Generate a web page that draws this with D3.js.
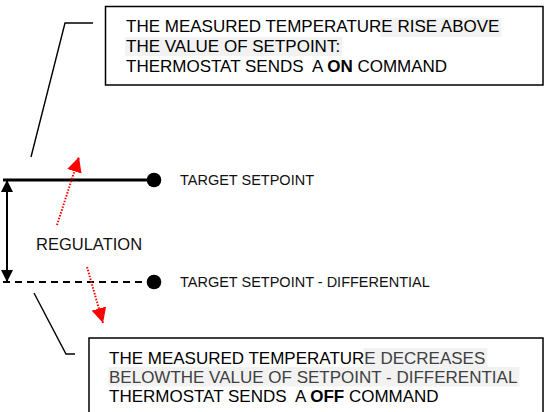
<!DOCTYPE html>
<html lang="en">
<head>
  <meta charset="utf-8">
  <title>Thermostat regulation</title>
  <script src="https://d3js.org/d3.v7.min.js"></script>
  <style>
    html, body { margin:0; padding:0; background:#fff; }
    svg { display:block; font-family:"Liberation Sans", Arial, sans-serif; }
  </style>
</head>
<body>
  <svg id="chart" width="546" height="412"></svg>
  <script>
    // ─── Data ────────────────────────────────────────────────────────────────
    const levelNames  = ["TARGET SETPOINT", "TARGET SETPOINT - DIFFERENTIAL"];
    const levelValues = [1, 0];            // setpoint above, setpoint - differential below
    const levelDashed = [false, true];
    const regulationLabel = "REGULATION";

    // each line: [plain part, highlighted part] ; bold word is marked with *…*
    const onLines  = [["THE MEASURED TEMPERATUR", "E RISE ABOVE"],
                      ["", "THE VALUE OF SETPOINT:"],
                      ["THERMOSTAT SENDS  A *ON* COMMAND", ""]];
    const offLines = [["THE MEASURED TEMPERATUR", "E DECREASES"],
                      ["", "BELOWTHE VALUE OF SETPOINT - DIFFERENTIAL"],
                      ["THERMOSTAT SENDS  A *OFF* COMMAND", ""]];
    // ─────────────────────────────────────────────────────────────────────────

    const svg = d3.select("#chart");
    const y = d3.scaleLinear().domain([0, 1]).range([282, 180]);
    const x = d3.scaleLinear().domain([0, 1]).range([3, 154]);

    // arrowheads
    const defs = svg.append("defs");
    defs.append("marker")
      .attr("id", "redHead").attr("viewBox", "0 0 10 10")
      .attr("refX", 10).attr("refY", 5)
      .attr("markerWidth", 15).attr("markerHeight", 15)
      .attr("markerUnits", "userSpaceOnUse")
      .attr("orient", "auto")
      .append("path").attr("d", "M0,0L10,5L0,10Z").attr("fill", "#ff0000");
    defs.append("marker")
      .attr("id", "blackHead").attr("viewBox", "0 0 10 10")
      .attr("refX", 10).attr("refY", 5)
      .attr("markerWidth", 14).attr("markerHeight", 12)
      .attr("markerUnits", "userSpaceOnUse")
      .attr("orient", "auto-start-reverse")
      .append("path").attr("d", "M0,0L10,5L0,10Z").attr("fill", "#000");

    // ── text boxes ──
    function textBox(lines, bx, by, bw, bh, tx, baselines, hlTop, lineH, hlColor) {
      svg.append("rect")
        .attr("x", bx).attr("y", by).attr("width", bw).attr("height", bh)
        .attr("fill", "#fff").attr("stroke", "#000").attr("stroke-width", 1.5);
      const g = svg.append("g");
      lines.forEach((ln, i) => {
        const hl = g.append("rect").attr("fill", "#f2f2f2");
        const t = g.append("text")
          .attr("x", tx).attr("y", baselines[i])
          .attr("font-size", 17).attr("fill", "#000");
        // plain part, bold words between *
        ln[0].split("*").forEach((part, k) => {
          if (!part) return;
          t.append("tspan").text(part)
            .attr("font-weight", k % 2 ? "bold" : null)
            .style("white-space", "pre");
        });
        let hs = null;
        if (ln[1]) {
          hs = t.append("tspan").text(ln[1]).attr("fill", hlColor);
        }
        t.attr("xml:space", "preserve");
        if (hs) {
          const full = t.node().getComputedTextLength();
          const w = hs.node().getComputedTextLength();
          hl.attr("x", tx + full - w - 1).attr("y", hlTop[i])
            .attr("width", w + 3).attr("height", lineH);
        } else {
          hl.remove();
        }
      });
    }

    textBox(onLines, 105.5, 6.5, 437.5, 78.5, 126, [32, 52, 72], [18, 37], 19, "#000");
    textBox(offLines, 89, 338, 454, 90, 109, [364, 383, 402], [348, 367], 19.5, "#404040");

    // ── leader lines ──
    const lineGen = d3.line();
    svg.append("path")
      .attr("d", lineGen([[93, 23], [65, 23], [31, 157]]))
      .attr("fill", "none").attr("stroke", "#000").attr("stroke-width", 1.4);
    svg.append("path")
      .attr("d", lineGen([[34, 293], [66, 354], [75, 354]]))
      .attr("fill", "none").attr("stroke", "#000").attr("stroke-width", 1.4);

    // ── setpoint levels ──
    levelValues.forEach((v, i) => {
      svg.append("line")
        .attr("x1", x(0)).attr("x2", x(1))
        .attr("y1", y(v)).attr("y2", y(v))
        .attr("stroke", "#000")
        .attr("stroke-width", levelDashed[i] ? 2 : 3)
        .attr("stroke-dasharray", levelDashed[i] ? "7,5" : null);
      svg.append("circle")
        .attr("cx", x(1)).attr("cy", y(v)).attr("r", 7.3).attr("fill", "#000");
      svg.append("text")
        .attr("x", 180).attr("y", y(v) + 5)
        .attr("font-size", 14.5).attr("fill", "#111")
        .text(levelNames[i]);
    });

    // ── regulation double arrow ──
    svg.append("line")
      .attr("x1", 7).attr("x2", 7)
      .attr("y1", y(levelValues[0])).attr("y2", y(levelValues[1]))
      .attr("stroke", "#000").attr("stroke-width", 2)
      .attr("marker-start", "url(#blackHead)")
      .attr("marker-end", "url(#blackHead)");
    svg.append("text")
      .attr("x", 36).attr("y", 250)
      .attr("font-size", 16.5).attr("fill", "#111")
      .text(regulationLabel);

    // ── red dotted arrows ──
    svg.append("line")
      .attr("x1", 57).attr("y1", 225).attr("x2", 79).attr("y2", 157)
      .attr("stroke", "#ff0000").attr("stroke-width", 2)
      .attr("stroke-dasharray", "1.5,1.5")
      .attr("marker-end", "url(#redHead)");
    svg.append("line")
      .attr("x1", 87).attr("y1", 267).attr("x2", 103).attr("y2", 323)
      .attr("stroke", "#ff0000").attr("stroke-width", 2)
      .attr("stroke-dasharray", "1.5,1.5")
      .attr("marker-end", "url(#redHead)");
  </script>
</body>
</html>
